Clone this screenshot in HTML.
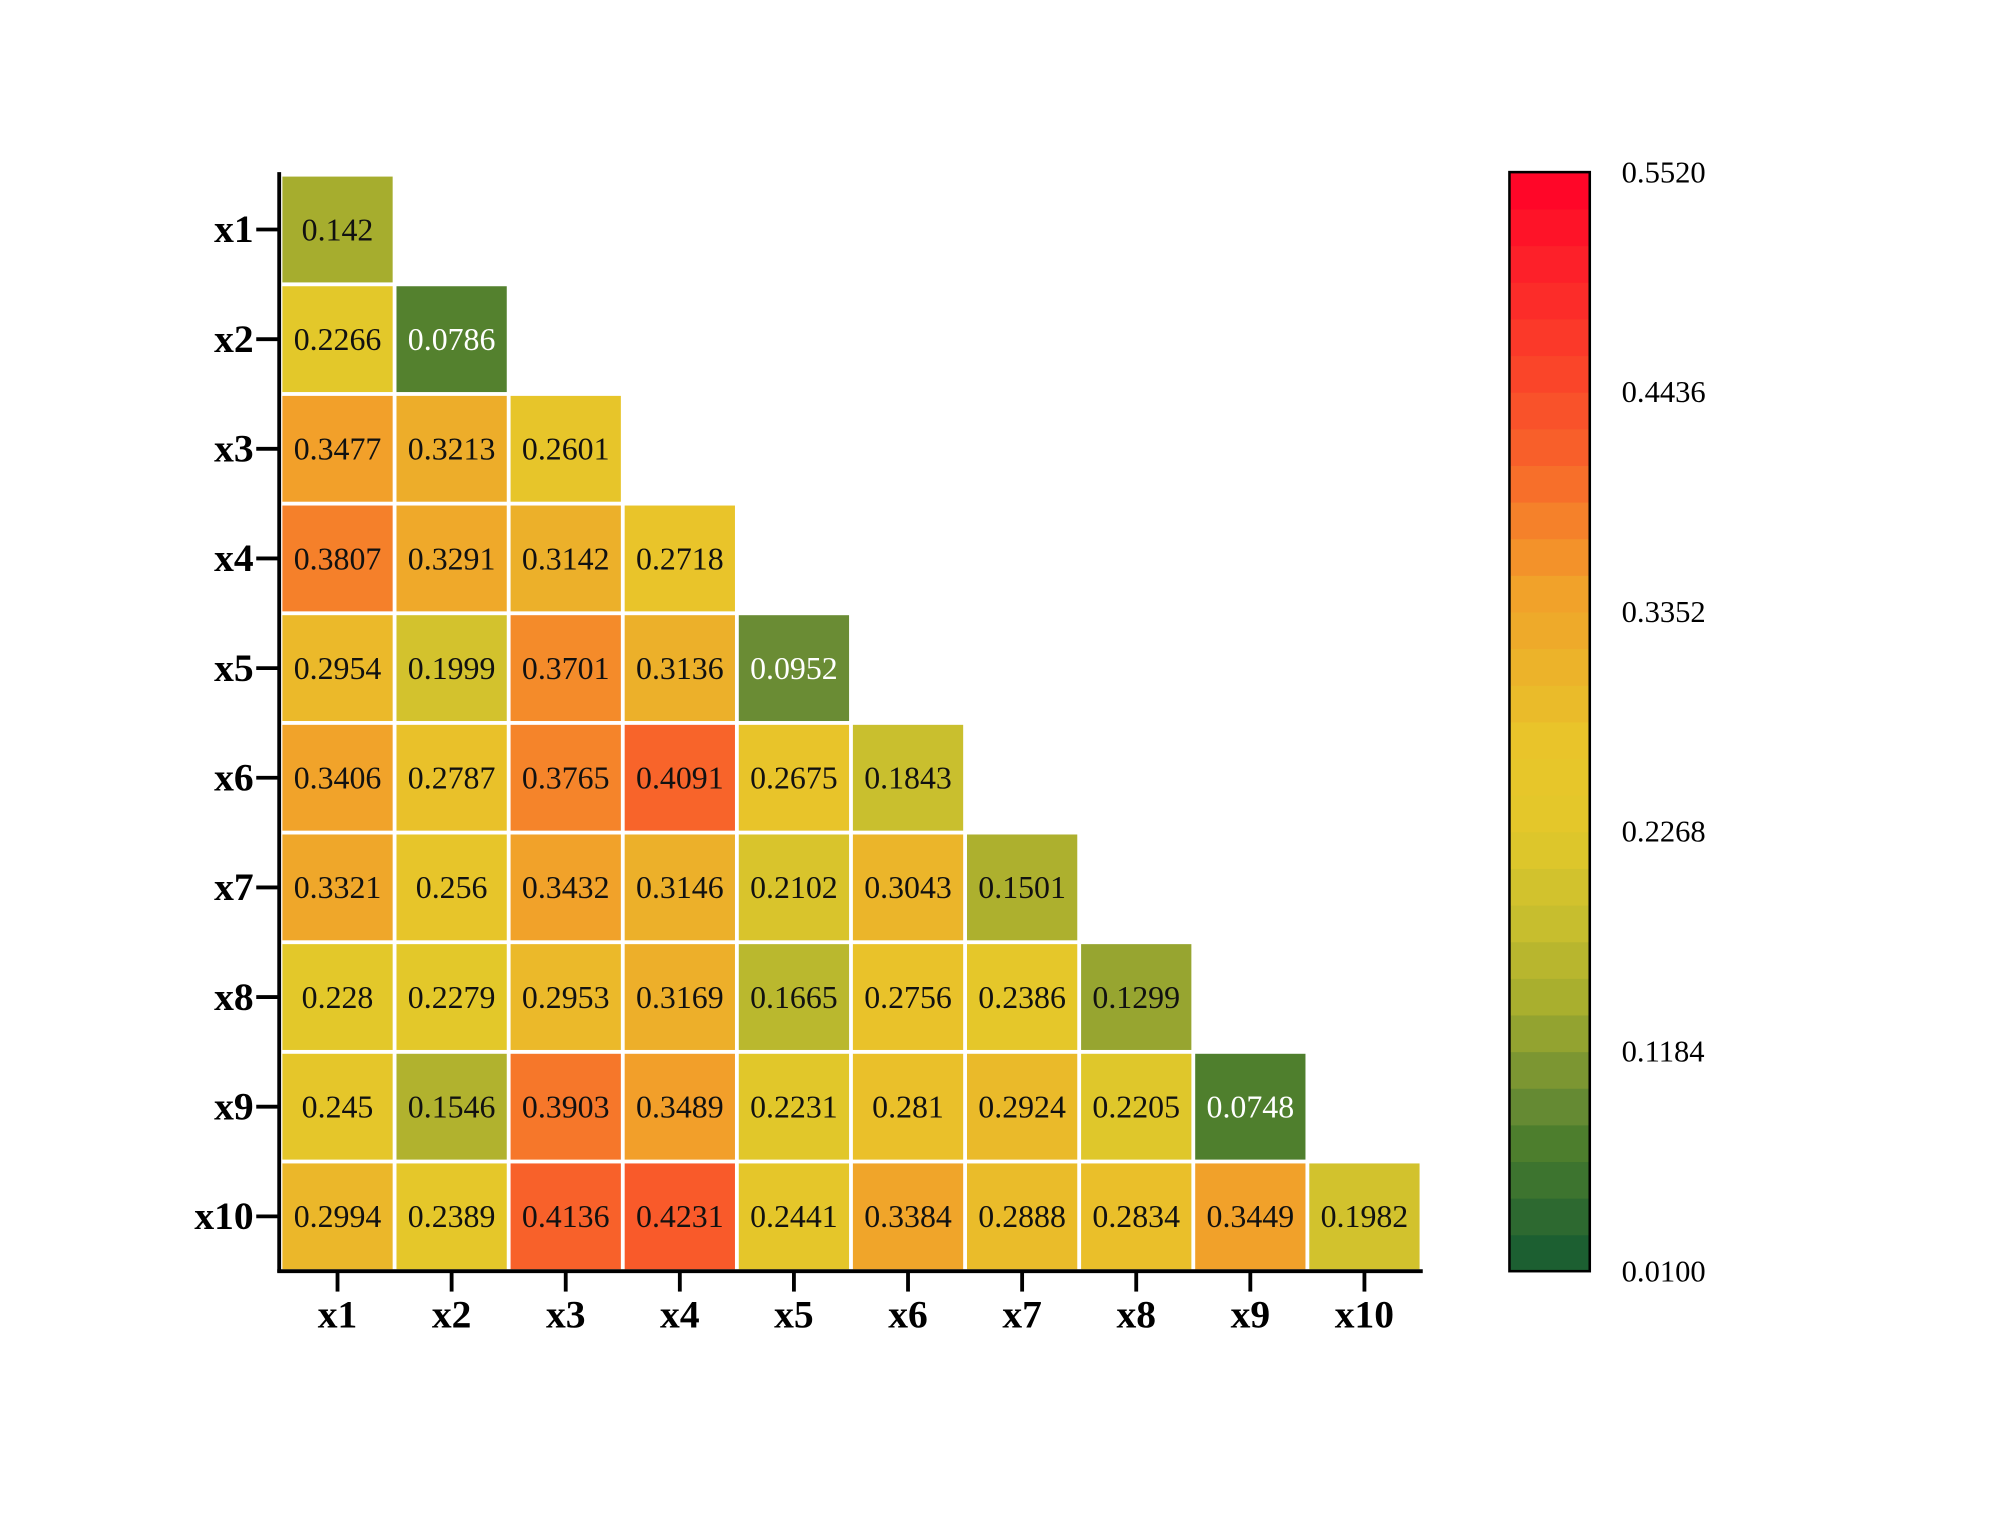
<!DOCTYPE html>
<html><head><meta charset="utf-8"><style>
html,body{margin:0;padding:0;background:#fff}
svg{display:block}
text{font-family:"Liberation Serif",serif}
</style></head><body>
<svg id="chart" width="1999" height="1530" viewBox="0 0 1568 1200" preserveAspectRatio="none" xmlns="http://www.w3.org/2000/svg"></svg>
<script>
const labels=["x1","x2","x3","x4","x5","x6","x7","x8","x9","x10"];
const row1=[0.142];
const row2=[0.2266,0.0786];
const row3=[0.3477,0.3213,0.2601];
const row4=[0.3807,0.3291,0.3142,0.2718];
const row5=[0.2954,0.1999,0.3701,0.3136,0.0952];
const row6=[0.3406,0.2787,0.3765,0.4091,0.2675,0.1843];
const row7=[0.3321,0.256,0.3432,0.3146,0.2102,0.3043,0.1501];
const row8=[0.228,0.2279,0.2953,0.3169,0.1665,0.2756,0.2386,0.1299];
const row9=[0.245,0.1546,0.3903,0.3489,0.2231,0.281,0.2924,0.2205,0.0748];
const row10=[0.2994,0.2389,0.4136,0.4231,0.2441,0.3384,0.2888,0.2834,0.3449,0.1982];
const rows=[row1,row2,row3,row4,row5,row6,row7,row8,row9,row10];
const cbTicks=["0.0100","0.1184","0.2268","0.3352","0.4436","0.5520"];
const vmin=0.01,vmax=0.552;

const NS="http://www.w3.org/2000/svg";
const svg=document.getElementById('chart');
function el(t,a){const e=document.createElementNS(NS,t);for(const k in a)e.setAttribute(k,a[k]);svg.appendChild(e);return e;}
const X0=220,X1=1115,Y0=137,Y1=997;
const cw=(X1-X0)/10,ch=(Y1-Y0)/10;
const xPos=i=>X0+i*cw, yPos=i=>Y0+i*ch;
const stops=[[0.01,[20,90,50]],[0.075,[79,127,45]],[0.095,[106,140,52]],[0.142,[166,173,46]],[0.184,[201,191,46]],[0.227,[227,200,42]],[0.272,[233,196,42]],[0.314,[236,176,42]],[0.348,[242,160,42]],[0.381,[245,128,42]],[0.409,[248,100,42]],[0.552,[255,0,40]]];
function color(v){
  for(let i=0;i<stops.length-1;i++){const [a,ca]=stops[i],[b,cb]=stops[i+1];
    if(v<=b||i==stops.length-2){const t=Math.max(0,Math.min(1,(v-a)/(b-a)));
      return 'rgb('+ca.map((c,j)=>Math.round(c+(cb[j]-c)*t)).join(',')+')';}}
}
rows.forEach((r,i)=>r.forEach((v,j)=>{
  const c=el('rect',{x:xPos(j)+1.5,y:yPos(i)+1.5,width:cw-3,height:ch-3,fill:color(v)});
  
  
  const t=el('text',{x:xPos(j)+cw/2,y:yPos(i)+ch/2+8.5,'text-anchor':'middle','font-size':25,fill:v<0.1?'#fff':'#111'});
  t.textContent=String(v);
  
  
}));
const ya=el('line',{x1:219,y1:135,x2:219,y2:998,stroke:'#000','stroke-width':3});


const xa=el('line',{x1:217.5,y1:997,x2:1116,y2:997,stroke:'#000','stroke-width':3});


labels.forEach((l,i)=>{
  const cy=yPos(i)+ch/2;
  el('line',{x1:201,y1:cy,x2:219,y2:cy,stroke:'#000','stroke-width':3});
  const t=el('text',{x:199,y:cy+10,'text-anchor':'end','font-size':31,'font-weight':'bold'});
  t.textContent=l;
  
  
  const cx=xPos(i)+cw/2;
  el('line',{x1:cx,y1:997,x2:cx,y2:1013,stroke:'#000','stroke-width':3});
  const u=el('text',{x:cx,y:1041,'text-anchor':'middle','font-size':31,'font-weight':'bold'});
  u.textContent=l;
  
  
});
const CB0=135,CB1=997,CX=1184,CW=63,N=30;
for(let k=0;k<N;k++){
  const v=vmin+(vmax-vmin)*(k+0.5)/N;
  const h=(CB1-CB0)/N;
  const r=el('rect',{x:CX,y:CB1-(k+1)*h,width:CW,height:h+0.6,fill:color(v)});
  
  
}
const fr=el('rect',{x:CX,y:CB0,width:CW,height:CB1-CB0,fill:'none',stroke:'#000','stroke-width':2});


cbTicks.forEach(s=>{
  const v=parseFloat(s);
  const y=CB1-(v-vmin)/(vmax-vmin)*(CB1-CB0);
  const t=el('text',{x:1272,y:y+8,'font-size':24});
  t.textContent=s;
  
  
});
</script>
</body></html>
